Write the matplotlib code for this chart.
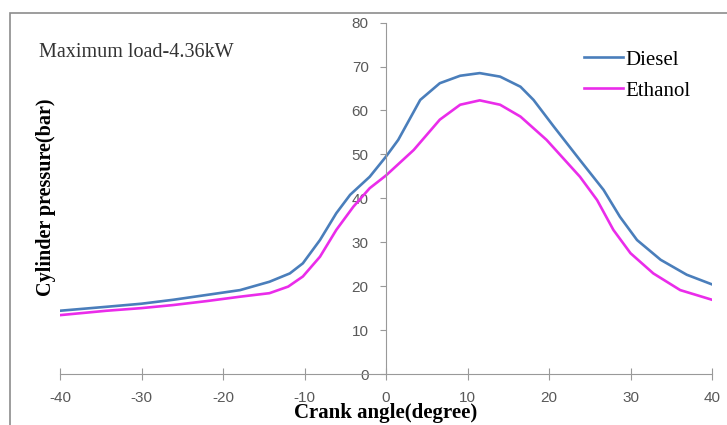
import matplotlib
matplotlib.use("Agg")
import matplotlib.pyplot as plt
from matplotlib.patches import Rectangle

plt.rcParams["axes.unicode_minus"] = False

diesel_x = [-40, -34.3, -30, -26.1, -22, -17.9, -14.3, -11.8, -10.2, -8.1, -6.1, -4.4, -2, 0, 1.5, 4.2, 6.6, 9.1, 11.5, 14, 16.5, 18.1, 20.6, 23.8, 26.7, 28.7, 30.8, 33.7, 36.9, 40]
diesel_y = [14.4, 15.3, 16.0, 16.9, 18.0, 19.1, 21.0, 22.9, 25.2, 30.5, 36.6, 40.8, 44.9, 49.5, 53.3, 62.4, 66.2, 67.9, 68.5, 67.7, 65.4, 62.4, 56.3, 48.7, 41.9, 35.8, 30.5, 26.0, 22.6, 20.4]
ethanol_x = [-40, -34.3, -30, -26.1, -22, -17.9, -14.3, -12, -10.2, -8.1, -6.1, -4, -2, 0, 3.4, 6.6, 9.1, 11.5, 14, 16.5, 19.7, 23.8, 25.9, 27.9, 30, 32.8, 36.1, 40]
ethanol_y = [13.4, 14.4, 15.0, 15.7, 16.6, 17.6, 18.4, 19.9, 22.2, 26.7, 32.8, 38.1, 42.3, 45.2, 51.0, 57.9, 61.3, 62.3, 61.3, 58.6, 53.3, 44.9, 39.6, 32.8, 27.5, 22.9, 19.1, 16.9]
x_ticks = [-40, -30, -20, -10, 0, 10, 20, 30, 40]
y_ticks = [0, 10, 20, 30, 40, 50, 60, 70, 80]

W, H = 727, 425
fig = plt.figure(figsize=(W / 100, H / 100), dpi=100)
fig.patches.append(Rectangle((10 / W, -0.05), 1.1, 1 - 13 / H + 0.05, transform=fig.transFigure,
                             fill=False, edgecolor="#8c8c8c", linewidth=1.2))
ax = fig.add_axes([60 / W, 1 - 374 / H, (712 - 60) / W, (374 - 22.6) / H])

ax.plot(diesel_x, diesel_y, color="#4a7ebb", lw=1.9, label="Diesel")
ax.plot(ethanol_x, ethanol_y, color="#ea2cea", lw=1.9, label="Ethanol")

ax.set_xlim(-40, 40)
ax.set_ylim(0, 80)
for s in ["top", "right"]:
    ax.spines[s].set_visible(False)
ax.spines["left"].set_position(("data", 0))
ax.spines["left"].set_color("#999999")
ax.spines["bottom"].set_color("#999999")
ax.set_xticks(x_ticks)
ax.set_yticks(y_ticks)
ax.tick_params(axis="x", direction="inout", length=8, color="#999999", labelsize=11,
               labelcolor="#595959", pad=8)
ax.tick_params(axis="y", direction="out", length=4.5, color="#999999", labelsize=11,
               labelcolor="#595959", pad=8)
for lab in ax.get_xticklabels() + ax.get_yticklabels():
    lab.set_family("Liberation Sans")

ax.set_xlabel("Crank angle(degree)", family="Liberation Serif", fontweight="bold", fontsize=15, labelpad=-1)
fig.text(46 / W, 1 - 197 / H, "Cylinder pressure(bar)", rotation=90, family="Liberation Serif",
         fontweight="bold", fontsize=14.5, ha="center", va="center")
fig.text(39 / W, 1 - 57 / H, "Maximum load-4.36kW", family="Liberation Serif", fontsize=14.5,
         ha="left", va="baseline", color="#333333")

leg = ax.legend(loc="upper left", bbox_to_anchor=(584 / W, 1 - 50 / H), bbox_transform=fig.transFigure,
                frameon=False, prop={"family": "Liberation Serif", "size": 15},
                handlelength=1.85, handletextpad=0.15, labelspacing=0.55, borderaxespad=0,
                borderpad=0)

fig.savefig("out.png", dpi=100)
